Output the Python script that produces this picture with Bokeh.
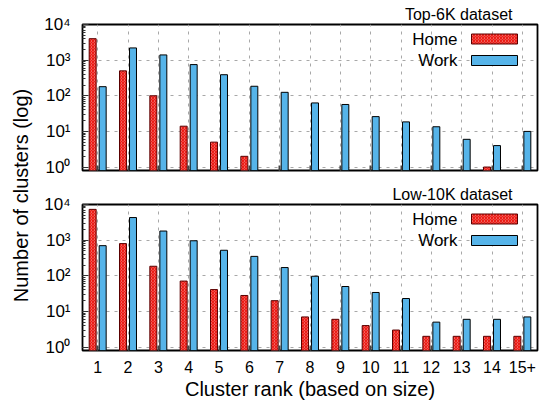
import math
import numpy as np
from bokeh.plotting import figure
from bokeh.layouts import row, column
from bokeh.models import (FactorRange, FixedTicker, Label, BoxAnnotation, Title,
                          CustomJSTickFormatter, ColumnDataSource)
from bokeh.transform import dodge
from bokeh.embed import file_html
from bokeh.resources import INLINE

nan = np.nan

# ---------------- data ----------------
ranks = ["1", "2", "3", "4", "5", "6", "7", "8", "9", "10", "11", "12", "13", "14", "15+"]
top_home = [4000, 500, 100, 14, 5, 2, nan, nan, nan, nan, nan, nan, nan, 1, nan]
top_work = [180, 2200, 1400, 750, 390, 185, 125, 63, 57, 26, 18.5, 13.5, 6, 4, 10]
low_home = [7300, 800, 185, 71, 41, 28, 20, 7, 6, 4, 3, 2, 2, 2, 2]
low_work = [700, 4300, 1800, 960, 520, 350, 170, 97, 50, 34, 23, 5, 6, 6, 7]
y_tick_values = [1, 10, 100, 1000, 10000]
y_tick_labels = ["10⁰", "10¹", "10²", "10³", "10⁴"]
panel_titles = ["Top-6K dataset", "Low-10K dataset"]
series_names = ["Home", "Work"]
x_title = "Cluster rank (based on size)"
y_title = "Number of clusters (log)"

FONT = "Liberation Sans"
RED = "#ec1c16"
RED_EDGE = "#5a0000"
BLUE = "#56b4e9"
GRID = "#a8a8a8"

FRAME_H = 146
FRAME_W = 455


def make_panel(title, home, work, border_top, border_bottom, show_labels):
    src = ColumnDataSource(dict(rank=ranks, home=np.array(home, dtype=float),
                                work=np.array(work, dtype=float)))
    p = figure(x_range=FactorRange(*ranks), y_axis_type="log", y_range=(0.8, 10000),
               frame_width=FRAME_W, frame_height=FRAME_H,
               output_backend="svg", toolbar_location=None,
               min_border_left=42, min_border_right=11, min_border_top=border_top,
               min_border_bottom=border_bottom, background_fill_color="white",
               border_fill_color="white")
    p.outline_line_color = "black"
    p.outline_line_width = 1.8

    # bars
    p.vbar(x=dodge("rank", -0.165, range=p.x_range), top="home", bottom=0.1, width=0.23,
           source=src, fill_color="white", line_color=RED_EDGE, line_width=1,
           hatch_pattern="diagonal_cross", hatch_color=RED, hatch_scale=3.0, hatch_weight=1.9)
    p.vbar(x=dodge("rank", 0.165, range=p.x_range), top="work", bottom=0.1, width=0.23,
           source=src, fill_color=BLUE, line_color="black", line_width=1)

    # grids
    for g in (p.xgrid, p.ygrid):
        g.grid_line_color = GRID
        g.grid_line_dash = "3 5"
        g.grid_line_width = 1

    # y axis
    minor = [m * d for d in y_tick_values[:-1] for m in range(2, 10)]
    p.yaxis.ticker = FixedTicker(ticks=y_tick_values, minor_ticks=minor)
    p.yaxis.major_label_overrides = {v: t for v, t in zip(y_tick_values, y_tick_labels)}
    p.yaxis.axis_line_color = None
    p.yaxis.major_tick_in = 6
    p.yaxis.major_tick_out = 0
    p.yaxis.minor_tick_in = 3
    p.yaxis.minor_tick_out = 0
    p.yaxis.major_tick_line_color = "#333333"
    p.yaxis.minor_tick_line_color = "#333333"
    p.yaxis.major_label_standoff = 12
    p.yaxis.major_label_text_font = FONT
    p.yaxis.major_label_text_font_size = "17px"
    p.yaxis.major_label_text_color = "black"

    # x axis
    p.xaxis.axis_line_color = None
    p.xaxis.major_tick_in = 5
    p.xaxis.major_tick_out = 0
    p.xaxis.major_tick_line_color = "#444444"
    p.xaxis.major_tick_line_width = 2
    p.xaxis.major_label_text_font = FONT
    p.xaxis.major_label_text_font_size = "16px"
    p.xaxis.major_label_text_color = "black"
    p.xaxis.major_label_standoff = 10
    if show_labels:
        p.xaxis.axis_label = x_title
        p.xaxis.axis_label_text_font = FONT
        p.xaxis.axis_label_text_font_size = "20px"
        p.xaxis.axis_label_text_font_style = "normal"
        p.xaxis.axis_label_text_color = "black"
        p.xaxis.axis_label_standoff = 2
    else:
        p.xaxis.formatter = CustomJSTickFormatter(code="return ''")

    # panel title (above frame, right aligned)
    p.add_layout(Title(text=title, align="right", offset=25, standoff=3,
                       text_font=FONT, text_font_size="16px", text_font_style="normal",
                       text_color="black"), "above")

    # legend (text on the left, swatch on the right)
    rows_y = [131.5, 110]
    for name, cy in zip(series_names, rows_y):
        p.add_layout(Label(x=375, y=cy, x_units="screen", y_units="screen", text=name,
                           text_align="right", text_baseline="middle", text_font=FONT,
                           text_font_size="17px", text_color="black"))
    p.add_layout(BoxAnnotation(left=389, right=435, bottom=rows_y[0] - 5, top=rows_y[0] + 5,
                               left_units="screen", right_units="screen",
                               bottom_units="screen", top_units="screen",
                               fill_color="white", fill_alpha=1, line_color=RED_EDGE,
                               line_alpha=1, line_width=1, hatch_pattern="diagonal_cross",
                               hatch_color=RED, hatch_scale=3.0, hatch_weight=1.9))
    p.add_layout(BoxAnnotation(left=389, right=435, bottom=rows_y[1] - 5, top=rows_y[1] + 5,
                               left_units="screen", right_units="screen",
                               bottom_units="screen", top_units="screen",
                               fill_color=BLUE, fill_alpha=1, line_color="black",
                               line_alpha=1, line_width=1))
    return p


top = make_panel(panel_titles[0], top_home, top_work, 24, 10, False)
bottom = make_panel(panel_titles[1], low_home, low_work, 24, 58, True)

lab = figure(width=40, height=408, output_backend="svg", toolbar_location=None,
             x_axis_location=None, y_axis_location=None, min_border=0,
             x_range=(0, 1), y_range=(0, 1))
lab.outline_line_color = None
lab.grid.visible = False
lab.add_layout(Label(x=20, y=213, x_units="screen", y_units="screen", text=y_title,
                     angle=math.pi / 2, text_align="center", text_baseline="middle",
                     text_font=FONT, text_font_size="20px", text_color="black"))

layout = row(lab, column(top, bottom, spacing=0), spacing=0)

open("out.html", "w").write(file_html(layout, INLINE))
